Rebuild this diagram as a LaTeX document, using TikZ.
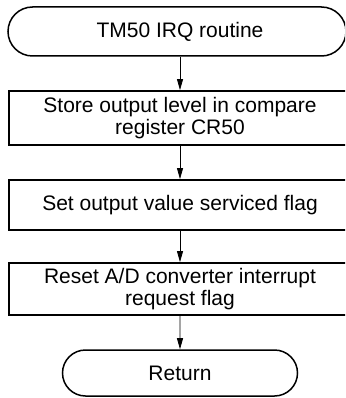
\documentclass[tikz,border=0pt]{standalone}
\usepackage{fontspec}
\setmainfont{Liberation Sans}
\usetikzlibrary{shapes.misc,arrows.meta}
\begin{document}
\begin{tikzpicture}[x=1pt,y=-1pt,
  txt/.style={font=\fontsize{21}{22.5}\selectfont, align=center, inner sep=0pt},
  term/.style={txt, rounded rectangle, draw, line width=1.5pt},
  proc/.style={rectangle, draw, line width=1.8pt, inner sep=0pt, minimum width=371pt},
  flow/.style={-{Triangle[length=11pt,width=6pt]}, line width=0.8pt}]
\path[use as bounding box, clip] (0,0) rectangle (345,398);
\node[term, minimum width=338pt, minimum height=49pt] (start) at (177,31.5) {};
\node[txt] (t0) at (180,31.5) {TM50 IRQ routine};
\node[proc, minimum height=54pt] (b1) at (194.5,118) {};
\node[txt] (t1) at (180,118) {Store output level in compare\\register CR50};
\node[proc, minimum height=50pt] (b2) at (194.5,205) {};
\node[txt] (t2) at (180,205) {Set output value serviced flag};
\node[proc, minimum height=52pt] (b3) at (194.5,289) {};
\node[txt] (t3) at (180,289) {Reset A/D converter interrupt\\request flag};
\node[term, minimum width=235pt, minimum height=46pt] (ret) at (180,373) {Return};
\draw[flow] (t0 |- start.south) -- (t1 |- b1.north);
\draw[flow] (t1 |- b1.south) -- (t2 |- b2.north);
\draw[flow] (t2 |- b2.south) -- (t3 |- b3.north);
\draw[flow] (t3 |- b3.south) -- (ret);
\end{tikzpicture}
\end{document}
